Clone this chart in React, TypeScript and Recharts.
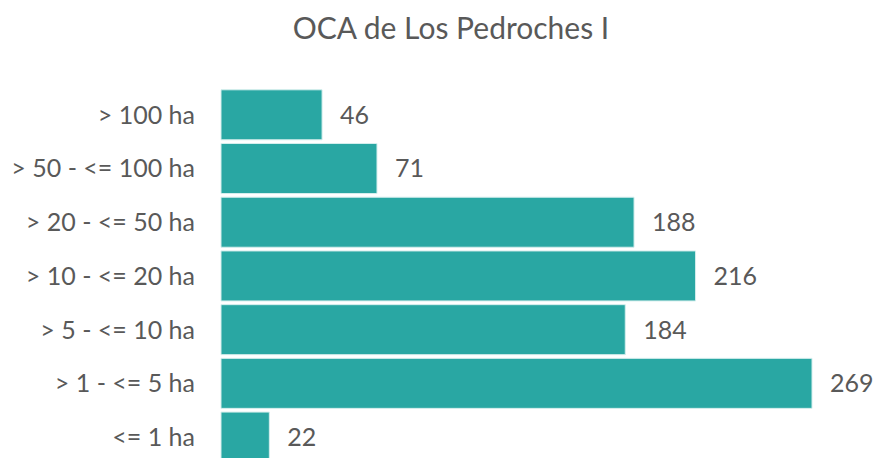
import React from 'react'
import { BarChart, Bar, XAxis, YAxis, LabelList } from 'recharts'

const categories = ['> 100 ha', '> 50 - <= 100 ha', '> 20 - <= 50 ha', '> 10 - <= 20 ha', '> 5 - <= 10 ha', '> 1 - <= 5 ha', '<= 1 ha']
const counts = [46, 71, 188, 216, 184, 269, 22]

const data = categories.map((name, i) => ({ name, value: counts[i] }))

const FONT = 'Lato, "Open Sans", sans-serif'
const GREY = '#595959'

const App = () => {
  return (
    <div style={{ position: 'absolute', left: 0, top: 0, width: 879, height: 458, overflow: 'hidden', background: '#fff' }}>
      <div
        style={{
          position: 'absolute', left: 0, top: 9, width: 902, textAlign: 'center',
          fontFamily: FONT, fontSize: 30, color: GREY,
        }}
      >
        OCA de Los Pedroches I
      </div>
      <BarChart
        width={879}
        height={464}
        data={data}
        layout="vertical"
        margin={{ top: 88, right: 67, bottom: 0, left: 0 }}
        barCategoryGap={1.8}
      >
        <XAxis type="number" domain={[0, 269]} hide />
        <YAxis
          type="category"
          dataKey="name"
          width={221}
          axisLine={false}
          tickLine={false}
          tickSize={0}
          tickMargin={26}
          tick={{ fill: GREY, fontSize: 25, fontFamily: FONT }}
        />
        <Bar dataKey="value" fill="#29a7a3" stroke="#d4eeed" strokeWidth={1} isAnimationActive={false}>
          <LabelList dataKey="value" position="right" offset={18} fill={GREY} fontSize={25} fontFamily={FONT} />
        </Bar>
      </BarChart>
    </div>
  )
}

export default App
